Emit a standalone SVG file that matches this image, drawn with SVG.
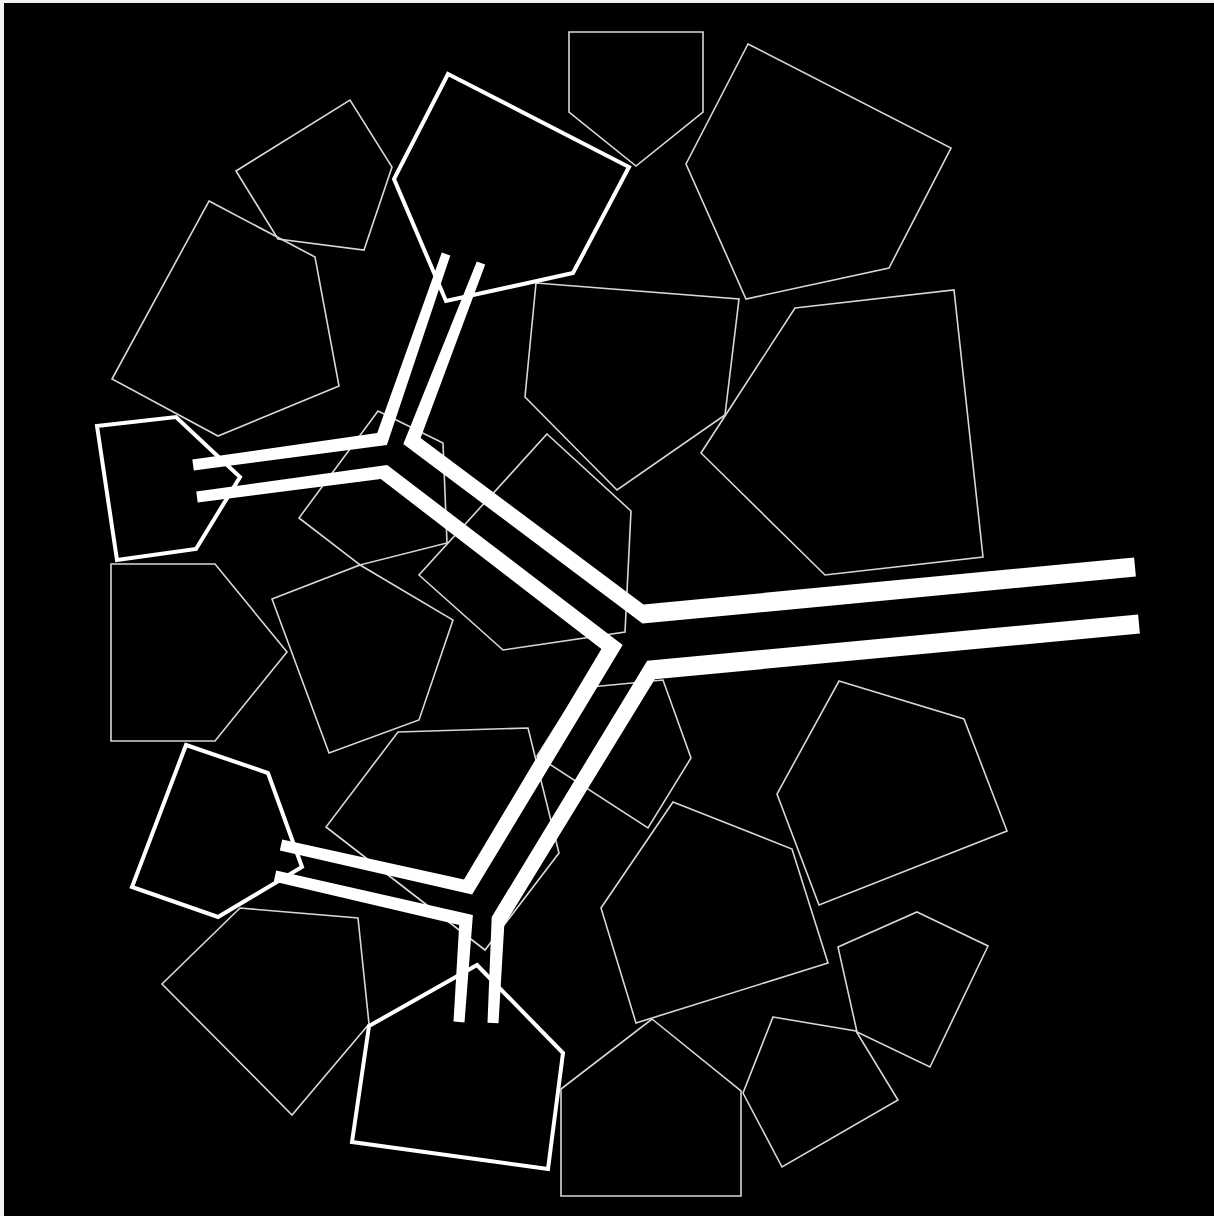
<svg xmlns="http://www.w3.org/2000/svg" width="1214" height="1216" viewBox="0 0 1214 1216">
<style>
.t{fill:none;stroke:#d8d8d8;stroke-width:1.6;stroke-linejoin:miter}
.k{fill:none;stroke:#ffffff;stroke-width:4;stroke-linejoin:miter}
.c{fill:#ffffff;stroke:none}
</style>
<rect x="0" y="0" width="1214" height="1216" fill="#f2f2f2"/>
<rect x="4" y="3" width="1210" height="1213" fill="#000000"/>
<g id="pentagons">
<g id="p1"><polygon class="t" points="569,32 703,32 703,112 636,166 569,112"/></g>
<g id="p2"><polygon class="t" points="748,44 951,148 889,268 746,299 686,164"/></g>
<g id="p3"><polygon class="t" points="236,171 350,100 392,167 364,250 278,239"/></g>
<g id="p4"><polygon class="t" points="209,201 315,257 339,386 218,436 112,379"/></g>
<g id="p6"><polygon class="t" points="536,283 739,299 725,415 617,490 525,397"/></g>
<g id="p7"><polygon class="t" points="795,308 954,290 983,557 825,575 701,453"/></g>
<g id="p9"><polygon class="t" points="111,564 215,564 287,652 215,741 111,741"/></g>
<g id="p10"><polygon class="t" points="378,411 443,443 447,543 360,565 299,518"/></g>
<g id="p11"><polygon class="t" points="272,599 360,565 453,620 419,720 329,753"/></g>
<g id="p12"><polygon class="t" points="547,434 631,511 625,632 503,650 419,575"/></g>
<g id="p13"><polygon class="t" points="398,732 528,728 559,853 485,950 326,827"/></g>
<g id="p14"><polygon class="t" points="580,688 663,680 691,758 648,828 537,756"/></g>
<g id="p15"><polygon class="t" points="673,802 792,849 828,963 636,1023 601,908"/></g>
<g id="p16"><polygon class="t" points="839,681 964,719 1007,831 819,905 777,794"/></g>
<g id="p17"><polygon class="t" points="917,912 988,946 930,1067 857,1032 838,947"/></g>
<g id="p18"><polygon class="t" points="773,1017 856,1031 898,1100 782,1167 743,1093"/></g>
<g id="p19"><polygon class="t" points="652,1019 741,1091 741,1196 561,1196 561,1089"/></g>
<g id="p21"><polygon class="t" points="240,908 358,918 369,1024 292,1115 162,984"/></g>
<g id="p5"><polygon class="k" points="448,74 629,167 573,273 446,301 394,179"/></g>
<g id="p8"><polygon class="k" points="97,426 176,417 240,477 196,549 117,560"/></g>
<g id="p22"><polygon class="k" points="186,745 268,773 302,867 218,917 132,887"/></g>
<g id="p20"><polygon class="k" points="477,965 563,1053 548,1169 352,1142 369,1026"/></g>
</g>
<g id="connectors">
<polygon id="l1" class="c" points="1134.1,557.5 643.5,604.4 420.6,438 485.2,264.6 476.8,261.4 403.3,443.9 642.5,623.6 1135.9,576.5"/>
<polygon id="l3" class="c" points="193.8,470.5 386.9,444.9 450.3,255.5 441.8,252.5 377.2,433.1 192.3,459.6"/>
<polygon id="l4" class="c" points="197.7,502.5 380.8,479 601.4,649 464,879.5 282.2,839.6 279.8,850.4 472.1,894.6 622.7,645 387.2,465 196.3,491.6"/>
<polygon id="l5" class="c" points="273.8,881.4 459.2,925.1 453.5,1021.6 464.5,1022.4 472.9,914.9 276.2,870.6"/>
<polygon id="l6" class="c" points="1138.1,614.5 647.2,660.8 491.7,917 487.5,1022.7 498.5,1023.3 504.3,925.1 654.8,679.2 1139.9,633.5"/>
</g>
</svg>
